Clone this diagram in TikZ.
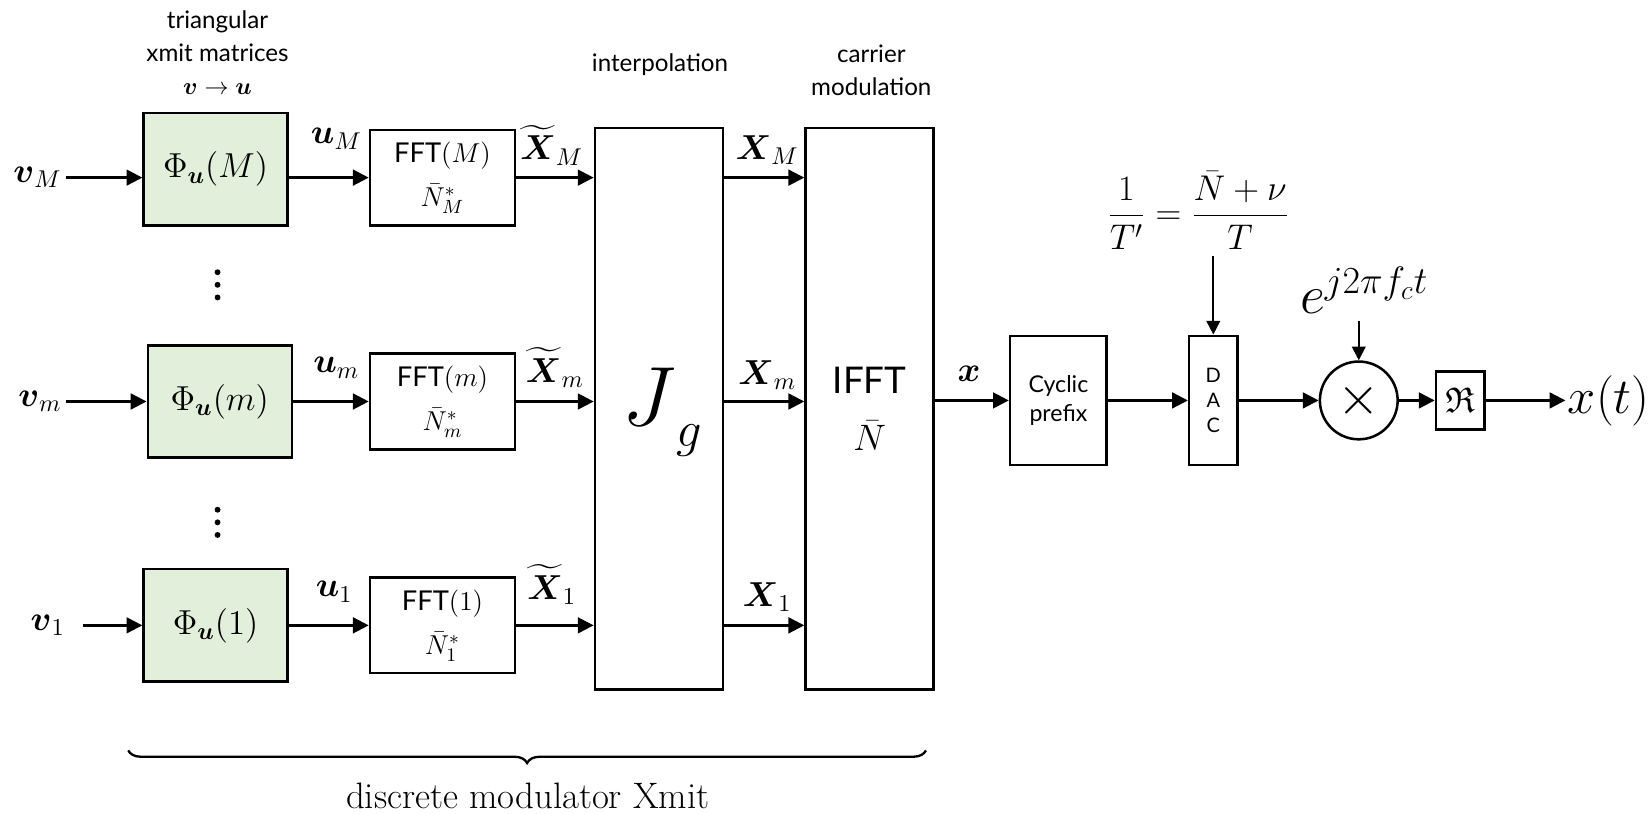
\documentclass[tikz,border=0pt]{standalone}
\usepackage{fix-cm}
\usepackage{amsmath}
\usepackage{amssymb}
\usepackage{fontspec}
\setsansfont{Lato}
\usepackage{tikz}
\usetikzlibrary{
  arrows.meta,
  positioning,
  decorations.pathreplacing
}
\definecolor{mdPhi}{HTML}{E2EFDA}
\tikzset{
  mdnode/.style={
    draw, line width=1.2pt, align=center, inner sep=0pt,
    font=\sffamily\fontsize{13}{21}\selectfont
  },
  phibox/.style={mdnode, fill=mdPhi, minimum width=68.5pt, minimum height=53.5pt, font=\fontsize{16.5}{19}\selectfont},
  fftbox/.style={mdnode, minimum width=69pt, minimum height=45.5pt},
  tallbox/.style={mdnode, minimum width=61pt, minimum height=267pt},
  cpbox/.style={mdnode, minimum width=46pt, minimum height=61.5pt, font=\sffamily\fontsize{11}{14}\selectfont},
  dacbox/.style={mdnode, minimum width=23pt, minimum height=61.5pt, font=\sffamily\fontsize{9.5}{12}\selectfont},
  rebox/.style={mdnode, minimum width=23pt, minimum height=27.5pt, font=\fontsize{17}{19}\selectfont},
  mixer/.style={draw, circle, line width=1.2pt, minimum size=37pt, inner sep=0pt, font=\fontsize{26}{26}\selectfont},
  sig/.style={font=\fontsize{16.5}{19}\selectfont, inner sep=2pt},
  tag/.style={font=\sffamily\fontsize{11.5}{15.5}\selectfont, align=center},
  flow/.style={-{Triangle[length=7.5pt, width=7.5pt]}, line width=1.1pt},
  thinflow/.style={-{Triangle[length=6.5pt, width=6.5pt]}, line width=0.8pt},
  brace/.style={decorate, decoration={brace, amplitude=6pt, mirror}, line width=1.1pt}
}
\begin{document}
\begin{tikzpicture}[x=0.5pt, y=-0.5pt, node distance=38pt]
  \useasboundingbox (0,0) rectangle (1568,774);
  % discrete modulator rows
  \node[fftbox] (fftM) at (421,169) {FFT$(M)$\\$\bar{N}^{*}_{M}$};
  \node[fftbox] (fftm) at (421,382) {FFT$(m)$\\$\bar{N}^{*}_{m}$};
  \node[fftbox] (fft1) at (421,595) {FFT$(1)$\\$\bar{N}^{*}_{1}$};
  \node[phibox, left=of fftM, yshift=4pt] (phiM) {$\Phi_{\boldsymbol{u}}(M)$};
  \node[phibox, left=36pt of fftm] (phim) {$\Phi_{\boldsymbol{u}}(m)$};
  \node[phibox, left=of fft1] (phi1) {$\Phi_{\boldsymbol{u}}(1)$};
  \node[tallbox] (jg) at (627,389) {};
  \node[font=\fontsize{40}{44}\selectfont] (jgtext) at (630,392) {$J$\raisebox{-10pt}{\fontsize{24}{24}\selectfont$g$}};
  \node[tallbox, right=of jg, font=\sffamily\fontsize{17.5}{27}\selectfont] (ifft) {IFFT\\$\bar{N}$};

  \node[sig, anchor=east] (vM) at (63,169) {$\boldsymbol{v}_M$};
  \node[sig, anchor=east] (vm) at (63,382) {$\boldsymbol{v}_m$};
  \node[sig, anchor=east] (v1) at (66,595) {$\boldsymbol{v}_1$};
  \node[sig] (uM) at (320,132) {$\boldsymbol{u}_M$};
  \node[sig] (um) at (320,350) {$\boldsymbol{u}_m$};
  \node[sig] (u1) at (318,563) {$\boldsymbol{u}_1$};
  \node[sig] (XtM) at (525,138) {$\widetilde{\boldsymbol{X}}_M$};
  \node[sig] (Xtm) at (528,350) {$\widetilde{\boldsymbol{X}}_m$};
  \node[sig] (Xt1) at (525,556) {$\widetilde{\boldsymbol{X}}_1$};
  \node[sig] (XM) at (730,143) {$\boldsymbol{X}_M$};
  \node[sig] (Xm) at (730,357) {$\boldsymbol{X}_m$};
  \node[sig] (X1) at (730,568) {$\boldsymbol{X}_1$};
  \node[sig] (xvec) at (922,356) {$\boldsymbol{x}$};
  % vertical dots between rows
  \foreach \d in {-12,0,12} {
    \fill (207,271+\d) circle (2.8);
    \fill (207,497+\d) circle (2.8);
  }

  \node[tag] (tri) at (207,50) {triangular\\xmit matrices\\$\boldsymbol{v}\rightarrow\boldsymbol{u}$};
  \node[tag] (interp) at (628,62) {interpolation};
  \node[tag] (carrier) at (829,67) {carrier\\modulation};

  % analog part
  \node[cpbox] (cp) at (1007,381) {Cyclic\\prefix};
  \node[dacbox, right=of cp] (dac) {D\\A\\C};
  \node[mixer, right=of dac] (mix) {$\times$};
  \node[rebox, right=17pt of mix] (re) {$\mathfrak{R}$};
  \node[right=of re, inner sep=1pt, font=\fontsize{24}{26}\selectfont] (xt) {$x(t)$};
  \node[font=\fontsize{17}{20}\selectfont] (rate) at (1140,200) {$\dfrac{1}{T'}=\dfrac{\bar{N}+\nu}{T}$};
  \node[font=\fontsize{26}{30}\selectfont] (expo) at (1298,276) {$e^{j2\pi f_c t}$};

  \draw[flow] (vM) -- (vM -| phiM.west); \draw[flow] (phiM.east |- fftM) -- (fftM);
  \draw[flow] (vm) -- (vm -| phim.west); \draw[flow] (phim) -- (fftm);
  \draw[flow, shorten <=6.5pt] (v1) -- (v1 -| phi1.west); \draw[flow] (phi1) -- (fft1);
  \foreach \r in {M,m,1} {
    \draw[flow] (fft\r) -- (fft\r -| jg.west);
    \draw[flow] (jg.east |- fft\r) -- (fft\r -| ifft.west);
  }
  \draw[flow] (ifft.east |- cp) -- (cp);
  \draw[flow] (cp) -- (dac); \draw[flow] (dac) -- (mix);
  \draw[flow] (mix) -- (re); \draw[flow] (re) -- (xt);
  \draw[thinflow] (rate.south -| dac.north) -- (dac.north);
  \draw[thinflow] (expo.south -| mix.north) -- (mix.north);

  \coordinate (braceL) at (122,714);
  \coordinate (braceR) at (881,714);
  \draw[brace] (braceL) -- (braceR);
  \node[font=\fontsize{17.5}{20}\selectfont] (xmit) at (502,757) {discrete modulator Xmit};
\end{tikzpicture}
\end{document}
